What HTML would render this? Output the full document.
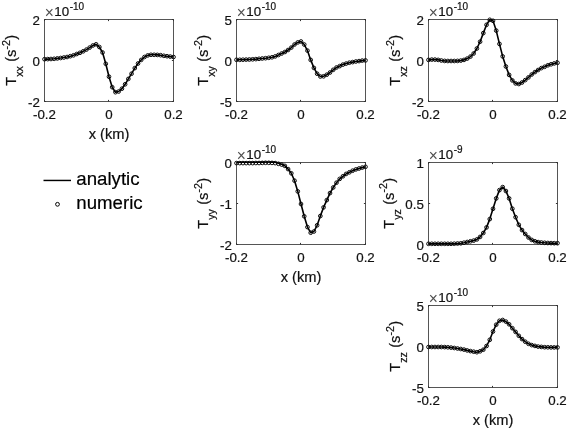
<!DOCTYPE html>
<html lang="en">
<head>
<meta charset="utf-8">
<title>Gravity gradient tensor components: analytic vs numeric</title>
<style>
html,body{margin:0;padding:0;background:#fff;}
body{width:568px;height:430px;overflow:hidden;}
svg{display:block;}
text{font-family:"Liberation Sans",Arial,Helvetica,sans-serif;fill:#111111;stroke:#111111;stroke-width:0.2px;}
.t{font-size:13.33px;}
.sup{font-size:10px;}
.mul{font-size:15.6px;stroke:none;fill:#505050;}
.l{font-size:14.67px;}
.sb{font-size:10.7px;}
.lg{font-size:18.67px;fill:#000;stroke:#000;stroke-width:0.2px;}
</style>
</head>
<body>
<svg width="568" height="430" viewBox="0 0 568 430">
<rect width="568" height="430" fill="#fff"/>
<g class="ax">
<rect x="44.5" y="19.5" width="129" height="82" fill="none" stroke="#555555" stroke-width="1"/>
<path d="M44.50 101.5v-1.6M44.50 19.5v1.6M108.50 101.5v-1.6M108.50 19.5v1.6M173.50 101.5v-1.6M173.50 19.5v1.6M44.5 19.50h1.6M173.5 19.50h-1.6M44.5 60.50h1.6M173.5 60.50h-1.6M44.5 101.50h1.6M173.5 101.50h-1.6" stroke="#333" stroke-width="1" fill="none"/>
<text class="t" x="44.50" y="119.30" text-anchor="middle">-0.2</text>
<text class="t" x="109.00" y="119.30" text-anchor="middle">0</text>
<text class="t" x="173.50" y="119.30" text-anchor="middle">0.2</text>
<text class="t" x="39.80" y="24.70" text-anchor="end">2</text>
<text class="t" x="39.80" y="65.70" text-anchor="end">0</text>
<text class="t" x="39.80" y="106.70" text-anchor="end">-2</text>
<text class="t" y="15.60"><tspan class="mul" x="44.80" dy="1.9">×</tspan><tspan x="54.35" dy="-1.9">10</tspan><tspan class="sup" dx="0.5" dy="-5.7">-10</tspan></text>
<text class="l" x="109.00" y="138.80" text-anchor="middle">x (km)</text>
<text class="l" transform="translate(16.30 85.70) rotate(-90)">T<tspan class="sb" dy="7.1">xx</tspan><tspan dy="-7.1" dx="0.2"> (s</tspan><tspan class="sb" dy="-6.6">-2</tspan><tspan dy="6.6" dx="0.2">)</tspan></text>
<path d="M44.50 59.20 L47.73 59.10 L50.95 59.00 L54.17 58.80 L57.40 58.40 L60.62 58.00 L63.85 57.50 L67.08 57.00 L70.30 56.20 L73.53 55.30 L76.75 54.00 L79.97 52.80 L83.20 51.30 L86.42 49.60 L89.65 47.60 L92.88 45.50 L96.10 44.30 L99.33 47.00 L102.55 52.50 L105.78 63.80 L109.00 76.70 L112.22 87.20 L115.45 92.20 L118.67 91.50 L121.90 88.70 L125.12 84.30 L128.35 78.90 L131.57 73.70 L134.80 68.10 L138.03 63.50 L141.25 59.90 L144.47 57.00 L147.70 55.40 L150.93 54.80 L154.15 54.80 L157.38 54.90 L160.60 55.20 L163.82 55.80 L167.05 56.20 L170.28 56.60 L173.50 57.00" fill="none" stroke="#000" stroke-width="1.6" stroke-linejoin="round"/>
<g fill="none" stroke="#000" stroke-width="0.95"><circle cx="44.50" cy="59.20" r="1.85"/><circle cx="47.73" cy="59.10" r="1.85"/><circle cx="50.95" cy="59.00" r="1.85"/><circle cx="54.17" cy="58.80" r="1.85"/><circle cx="57.40" cy="58.40" r="1.85"/><circle cx="60.62" cy="58.00" r="1.85"/><circle cx="63.85" cy="57.50" r="1.85"/><circle cx="67.08" cy="57.00" r="1.85"/><circle cx="70.30" cy="56.20" r="1.85"/><circle cx="73.53" cy="55.30" r="1.85"/><circle cx="76.75" cy="54.00" r="1.85"/><circle cx="79.97" cy="52.80" r="1.85"/><circle cx="83.20" cy="51.30" r="1.85"/><circle cx="86.42" cy="49.60" r="1.85"/><circle cx="89.65" cy="47.60" r="1.85"/><circle cx="92.88" cy="45.50" r="1.85"/><circle cx="96.10" cy="44.30" r="1.85"/><circle cx="99.33" cy="47.00" r="1.85"/><circle cx="102.55" cy="52.50" r="1.85"/><circle cx="105.78" cy="63.80" r="1.85"/><circle cx="109.00" cy="76.70" r="1.85"/><circle cx="112.22" cy="87.20" r="1.85"/><circle cx="115.45" cy="92.20" r="1.85"/><circle cx="118.67" cy="91.50" r="1.85"/><circle cx="121.90" cy="88.70" r="1.85"/><circle cx="125.12" cy="84.30" r="1.85"/><circle cx="128.35" cy="78.90" r="1.85"/><circle cx="131.57" cy="73.70" r="1.85"/><circle cx="134.80" cy="68.10" r="1.85"/><circle cx="138.03" cy="63.50" r="1.85"/><circle cx="141.25" cy="59.90" r="1.85"/><circle cx="144.47" cy="57.00" r="1.85"/><circle cx="147.70" cy="55.40" r="1.85"/><circle cx="150.93" cy="54.80" r="1.85"/><circle cx="154.15" cy="54.80" r="1.85"/><circle cx="157.38" cy="54.90" r="1.85"/><circle cx="160.60" cy="55.20" r="1.85"/><circle cx="163.82" cy="55.80" r="1.85"/><circle cx="167.05" cy="56.20" r="1.85"/><circle cx="170.28" cy="56.60" r="1.85"/><circle cx="173.50" cy="57.00" r="1.85"/></g>
</g>
<g class="ax">
<rect x="236.5" y="19.5" width="129" height="82" fill="none" stroke="#555555" stroke-width="1"/>
<path d="M236.50 101.5v-1.6M236.50 19.5v1.6M300.50 101.5v-1.6M300.50 19.5v1.6M365.50 101.5v-1.6M365.50 19.5v1.6M236.5 19.50h1.6M365.5 19.50h-1.6M236.5 60.50h1.6M365.5 60.50h-1.6M236.5 101.50h1.6M365.5 101.50h-1.6" stroke="#333" stroke-width="1" fill="none"/>
<text class="t" x="236.50" y="119.30" text-anchor="middle">-0.2</text>
<text class="t" x="301.00" y="119.30" text-anchor="middle">0</text>
<text class="t" x="365.50" y="119.30" text-anchor="middle">0.2</text>
<text class="t" x="231.80" y="24.70" text-anchor="end">5</text>
<text class="t" x="231.80" y="65.70" text-anchor="end">0</text>
<text class="t" x="231.80" y="106.70" text-anchor="end">-5</text>
<text class="t" y="15.60"><tspan class="mul" x="236.80" dy="1.9">×</tspan><tspan x="246.35" dy="-1.9">10</tspan><tspan class="sup" dx="0.5" dy="-5.7">-10</tspan></text>
<text class="l" transform="translate(208.30 85.70) rotate(-90)">T<tspan class="sb" dy="7.1">xy</tspan><tspan dy="-7.1" dx="0.2"> (s</tspan><tspan class="sb" dy="-6.6">-2</tspan><tspan dy="6.6" dx="0.2">)</tspan></text>
<path d="M236.50 59.80 L239.72 59.80 L242.95 59.70 L246.18 59.60 L249.40 59.50 L252.62 59.30 L255.85 59.10 L259.07 58.80 L262.30 58.50 L265.52 58.20 L268.75 57.80 L271.98 57.30 L275.20 56.40 L278.43 55.00 L281.65 53.50 L284.88 52.00 L288.10 50.00 L291.32 47.60 L294.55 44.50 L297.77 42.40 L301.00 41.50 L304.23 44.50 L307.45 50.60 L310.68 59.90 L313.90 67.90 L317.12 73.70 L320.35 76.50 L323.57 76.30 L326.80 74.70 L330.02 72.50 L333.25 69.80 L336.48 67.50 L339.70 66.10 L342.93 64.60 L346.15 63.60 L349.38 62.70 L352.60 62.10 L355.82 61.50 L359.05 61.10 L362.27 60.60 L365.50 60.40" fill="none" stroke="#000" stroke-width="1.6" stroke-linejoin="round"/>
<g fill="none" stroke="#000" stroke-width="0.95"><circle cx="236.50" cy="59.80" r="1.85"/><circle cx="239.72" cy="59.80" r="1.85"/><circle cx="242.95" cy="59.70" r="1.85"/><circle cx="246.18" cy="59.60" r="1.85"/><circle cx="249.40" cy="59.50" r="1.85"/><circle cx="252.62" cy="59.30" r="1.85"/><circle cx="255.85" cy="59.10" r="1.85"/><circle cx="259.07" cy="58.80" r="1.85"/><circle cx="262.30" cy="58.50" r="1.85"/><circle cx="265.52" cy="58.20" r="1.85"/><circle cx="268.75" cy="57.80" r="1.85"/><circle cx="271.98" cy="57.30" r="1.85"/><circle cx="275.20" cy="56.40" r="1.85"/><circle cx="278.43" cy="55.00" r="1.85"/><circle cx="281.65" cy="53.50" r="1.85"/><circle cx="284.88" cy="52.00" r="1.85"/><circle cx="288.10" cy="50.00" r="1.85"/><circle cx="291.32" cy="47.60" r="1.85"/><circle cx="294.55" cy="44.50" r="1.85"/><circle cx="297.77" cy="42.40" r="1.85"/><circle cx="301.00" cy="41.50" r="1.85"/><circle cx="304.23" cy="44.50" r="1.85"/><circle cx="307.45" cy="50.60" r="1.85"/><circle cx="310.68" cy="59.90" r="1.85"/><circle cx="313.90" cy="67.90" r="1.85"/><circle cx="317.12" cy="73.70" r="1.85"/><circle cx="320.35" cy="76.50" r="1.85"/><circle cx="323.57" cy="76.30" r="1.85"/><circle cx="326.80" cy="74.70" r="1.85"/><circle cx="330.02" cy="72.50" r="1.85"/><circle cx="333.25" cy="69.80" r="1.85"/><circle cx="336.48" cy="67.50" r="1.85"/><circle cx="339.70" cy="66.10" r="1.85"/><circle cx="342.93" cy="64.60" r="1.85"/><circle cx="346.15" cy="63.60" r="1.85"/><circle cx="349.38" cy="62.70" r="1.85"/><circle cx="352.60" cy="62.10" r="1.85"/><circle cx="355.82" cy="61.50" r="1.85"/><circle cx="359.05" cy="61.10" r="1.85"/><circle cx="362.27" cy="60.60" r="1.85"/><circle cx="365.50" cy="60.40" r="1.85"/></g>
</g>
<g class="ax">
<rect x="428.5" y="19.5" width="129" height="82" fill="none" stroke="#555555" stroke-width="1"/>
<path d="M428.50 101.5v-1.6M428.50 19.5v1.6M492.50 101.5v-1.6M492.50 19.5v1.6M557.50 101.5v-1.6M557.50 19.5v1.6M428.5 19.50h1.6M557.5 19.50h-1.6M428.5 60.50h1.6M557.5 60.50h-1.6M428.5 101.50h1.6M557.5 101.50h-1.6" stroke="#333" stroke-width="1" fill="none"/>
<text class="t" x="428.50" y="119.30" text-anchor="middle">-0.2</text>
<text class="t" x="493.00" y="119.30" text-anchor="middle">0</text>
<text class="t" x="557.50" y="119.30" text-anchor="middle">0.2</text>
<text class="t" x="423.80" y="24.70" text-anchor="end">2</text>
<text class="t" x="423.80" y="65.70" text-anchor="end">0</text>
<text class="t" x="423.80" y="106.70" text-anchor="end">-2</text>
<text class="t" y="15.60"><tspan class="mul" x="428.80" dy="1.9">×</tspan><tspan x="438.35" dy="-1.9">10</tspan><tspan class="sup" dx="0.5" dy="-5.7">-10</tspan></text>
<text class="l" transform="translate(400.30 85.70) rotate(-90)">T<tspan class="sb" dy="7.1">xz</tspan><tspan dy="-7.1" dx="0.2"> (s</tspan><tspan class="sb" dy="-6.6">-2</tspan><tspan dy="6.6" dx="0.2">)</tspan></text>
<path d="M428.50 59.90 L431.73 59.60 L434.95 59.60 L438.18 59.90 L441.40 60.50 L444.62 60.90 L447.85 61.00 L451.07 61.00 L454.30 61.00 L457.52 60.90 L460.75 60.60 L463.98 59.90 L467.20 58.60 L470.43 56.60 L473.65 53.50 L476.88 48.50 L480.10 41.70 L483.32 33.10 L486.55 24.80 L489.77 19.80 L493.00 20.80 L496.23 30.60 L499.45 43.90 L502.68 56.40 L505.90 66.50 L509.12 74.90 L512.35 80.40 L515.58 83.40 L518.80 84.00 L522.02 82.50 L525.25 80.10 L528.48 77.40 L531.70 74.50 L534.92 72.10 L538.15 70.00 L541.38 68.10 L544.60 66.80 L547.83 65.30 L551.05 64.30 L554.27 63.40 L557.50 62.80" fill="none" stroke="#000" stroke-width="1.6" stroke-linejoin="round"/>
<g fill="none" stroke="#000" stroke-width="0.95"><circle cx="428.50" cy="59.90" r="1.85"/><circle cx="431.73" cy="59.60" r="1.85"/><circle cx="434.95" cy="59.60" r="1.85"/><circle cx="438.18" cy="59.90" r="1.85"/><circle cx="441.40" cy="60.50" r="1.85"/><circle cx="444.62" cy="60.90" r="1.85"/><circle cx="447.85" cy="61.00" r="1.85"/><circle cx="451.07" cy="61.00" r="1.85"/><circle cx="454.30" cy="61.00" r="1.85"/><circle cx="457.52" cy="60.90" r="1.85"/><circle cx="460.75" cy="60.60" r="1.85"/><circle cx="463.98" cy="59.90" r="1.85"/><circle cx="467.20" cy="58.60" r="1.85"/><circle cx="470.43" cy="56.60" r="1.85"/><circle cx="473.65" cy="53.50" r="1.85"/><circle cx="476.88" cy="48.50" r="1.85"/><circle cx="480.10" cy="41.70" r="1.85"/><circle cx="483.32" cy="33.10" r="1.85"/><circle cx="486.55" cy="24.80" r="1.85"/><circle cx="489.77" cy="19.80" r="1.85"/><circle cx="493.00" cy="20.80" r="1.85"/><circle cx="496.23" cy="30.60" r="1.85"/><circle cx="499.45" cy="43.90" r="1.85"/><circle cx="502.68" cy="56.40" r="1.85"/><circle cx="505.90" cy="66.50" r="1.85"/><circle cx="509.12" cy="74.90" r="1.85"/><circle cx="512.35" cy="80.40" r="1.85"/><circle cx="515.58" cy="83.40" r="1.85"/><circle cx="518.80" cy="84.00" r="1.85"/><circle cx="522.02" cy="82.50" r="1.85"/><circle cx="525.25" cy="80.10" r="1.85"/><circle cx="528.48" cy="77.40" r="1.85"/><circle cx="531.70" cy="74.50" r="1.85"/><circle cx="534.92" cy="72.10" r="1.85"/><circle cx="538.15" cy="70.00" r="1.85"/><circle cx="541.38" cy="68.10" r="1.85"/><circle cx="544.60" cy="66.80" r="1.85"/><circle cx="547.83" cy="65.30" r="1.85"/><circle cx="551.05" cy="64.30" r="1.85"/><circle cx="554.27" cy="63.40" r="1.85"/><circle cx="557.50" cy="62.80" r="1.85"/></g>
</g>
<g class="ax">
<rect x="236.5" y="162.5" width="129" height="82" fill="none" stroke="#555555" stroke-width="1"/>
<path d="M236.50 244.5v-1.6M236.50 162.5v1.6M300.50 244.5v-1.6M300.50 162.5v1.6M365.50 244.5v-1.6M365.50 162.5v1.6M236.5 162.50h1.6M365.5 162.50h-1.6M236.5 203.50h1.6M365.5 203.50h-1.6M236.5 244.50h1.6M365.5 244.50h-1.6" stroke="#333" stroke-width="1" fill="none"/>
<text class="t" x="236.50" y="262.30" text-anchor="middle">-0.2</text>
<text class="t" x="301.00" y="262.30" text-anchor="middle">0</text>
<text class="t" x="365.50" y="262.30" text-anchor="middle">0.2</text>
<text class="t" x="231.80" y="167.70" text-anchor="end">0</text>
<text class="t" x="231.80" y="208.70" text-anchor="end">-1</text>
<text class="t" x="231.80" y="249.70" text-anchor="end">-2</text>
<text class="t" y="158.60"><tspan class="mul" x="236.80" dy="1.9">×</tspan><tspan x="246.35" dy="-1.9">10</tspan><tspan class="sup" dx="0.5" dy="-5.7">-10</tspan></text>
<text class="l" x="301.00" y="281.80" text-anchor="middle">x (km)</text>
<text class="l" transform="translate(208.30 228.70) rotate(-90)">T<tspan class="sb" dy="7.1">yy</tspan><tspan dy="-7.1" dx="0.2"> (s</tspan><tspan class="sb" dy="-6.6">-2</tspan><tspan dy="6.6" dx="0.2">)</tspan></text>
<path d="M236.50 162.30 L239.72 162.30 L242.95 162.30 L246.18 162.30 L249.40 162.30 L252.62 162.30 L255.85 162.20 L259.07 162.20 L262.30 162.10 L265.52 162.00 L268.75 162.00 L271.98 162.10 L275.20 162.30 L278.43 163.20 L281.65 164.20 L284.88 165.70 L288.10 169.10 L291.32 173.30 L294.55 180.70 L297.77 191.40 L301.00 204.00 L304.23 216.30 L307.45 227.10 L310.68 232.70 L313.90 231.50 L317.12 225.30 L320.35 216.00 L323.57 207.40 L326.80 200.10 L330.02 193.10 L333.25 187.50 L336.48 182.70 L339.70 178.90 L342.93 176.30 L346.15 173.90 L349.38 172.30 L352.60 170.70 L355.82 169.40 L359.05 168.50 L362.27 167.60 L365.50 166.80" fill="none" stroke="#000" stroke-width="1.6" stroke-linejoin="round"/>
<g fill="none" stroke="#000" stroke-width="0.95"><circle cx="236.50" cy="163.10" r="1.85"/><circle cx="239.72" cy="163.10" r="1.85"/><circle cx="242.95" cy="163.10" r="1.85"/><circle cx="246.18" cy="163.10" r="1.85"/><circle cx="249.40" cy="163.10" r="1.85"/><circle cx="252.62" cy="163.10" r="1.85"/><circle cx="255.85" cy="163.00" r="1.85"/><circle cx="259.07" cy="163.00" r="1.85"/><circle cx="262.30" cy="162.90" r="1.85"/><circle cx="265.52" cy="162.80" r="1.85"/><circle cx="268.75" cy="162.80" r="1.85"/><circle cx="271.98" cy="162.90" r="1.85"/><circle cx="275.20" cy="163.10" r="1.85"/><circle cx="278.43" cy="163.80" r="1.85"/><circle cx="281.65" cy="164.60" r="1.85"/><circle cx="284.88" cy="165.90" r="1.85"/><circle cx="288.10" cy="169.10" r="1.85"/><circle cx="291.32" cy="173.30" r="1.85"/><circle cx="294.55" cy="180.70" r="1.85"/><circle cx="297.77" cy="191.40" r="1.85"/><circle cx="301.00" cy="204.00" r="1.85"/><circle cx="304.23" cy="216.30" r="1.85"/><circle cx="307.45" cy="227.10" r="1.85"/><circle cx="310.68" cy="232.70" r="1.85"/><circle cx="313.90" cy="231.50" r="1.85"/><circle cx="317.12" cy="225.30" r="1.85"/><circle cx="320.35" cy="216.00" r="1.85"/><circle cx="323.57" cy="207.40" r="1.85"/><circle cx="326.80" cy="200.10" r="1.85"/><circle cx="330.02" cy="193.10" r="1.85"/><circle cx="333.25" cy="187.50" r="1.85"/><circle cx="336.48" cy="182.70" r="1.85"/><circle cx="339.70" cy="178.90" r="1.85"/><circle cx="342.93" cy="176.30" r="1.85"/><circle cx="346.15" cy="173.90" r="1.85"/><circle cx="349.38" cy="172.30" r="1.85"/><circle cx="352.60" cy="170.70" r="1.85"/><circle cx="355.82" cy="169.40" r="1.85"/><circle cx="359.05" cy="168.50" r="1.85"/><circle cx="362.27" cy="167.60" r="1.85"/><circle cx="365.50" cy="166.80" r="1.85"/></g>
</g>
<g class="ax">
<rect x="428.5" y="162.5" width="129" height="82" fill="none" stroke="#555555" stroke-width="1"/>
<path d="M428.50 244.5v-1.6M428.50 162.5v1.6M492.50 244.5v-1.6M492.50 162.5v1.6M557.50 244.5v-1.6M557.50 162.5v1.6M428.5 162.50h1.6M557.5 162.50h-1.6M428.5 203.50h1.6M557.5 203.50h-1.6M428.5 244.50h1.6M557.5 244.50h-1.6" stroke="#333" stroke-width="1" fill="none"/>
<text class="t" x="428.50" y="262.30" text-anchor="middle">-0.2</text>
<text class="t" x="493.00" y="262.30" text-anchor="middle">0</text>
<text class="t" x="557.50" y="262.30" text-anchor="middle">0.2</text>
<text class="t" x="423.80" y="167.70" text-anchor="end">1</text>
<text class="t" x="423.80" y="208.70" text-anchor="end">0.5</text>
<text class="t" x="423.80" y="249.70" text-anchor="end">0</text>
<text class="t" y="158.60"><tspan class="mul" x="428.80" dy="1.9">×</tspan><tspan x="438.35" dy="-1.9">10</tspan><tspan class="sup" dx="0.5" dy="-5.7">-9</tspan></text>
<text class="l" transform="translate(393.90 228.70) rotate(-90)">T<tspan class="sb" dy="7.1">yz</tspan><tspan dy="-7.1" dx="0.2"> (s</tspan><tspan class="sb" dy="-6.6">-2</tspan><tspan dy="6.6" dx="0.2">)</tspan></text>
<path d="M428.50 243.80 L431.73 243.80 L434.95 243.80 L438.18 243.80 L441.40 243.80 L444.62 243.80 L447.85 243.80 L451.07 243.80 L454.30 243.70 L457.52 243.50 L460.75 243.30 L463.98 242.70 L467.20 242.00 L470.43 241.30 L473.65 240.60 L476.88 239.40 L480.10 236.90 L483.32 233.00 L486.55 227.40 L489.77 219.10 L493.00 208.80 L496.23 198.40 L499.45 190.10 L502.68 187.10 L505.90 191.00 L509.12 198.40 L512.35 208.70 L515.58 217.20 L518.80 224.80 L522.02 230.10 L525.25 234.00 L528.48 237.50 L531.70 239.90 L534.92 241.30 L538.15 242.10 L541.38 242.50 L544.60 242.80 L547.83 243.00 L551.05 243.10 L554.27 243.20 L557.50 243.20" fill="none" stroke="#000" stroke-width="1.6" stroke-linejoin="round"/>
<g fill="none" stroke="#000" stroke-width="0.95"><circle cx="428.50" cy="243.80" r="1.85"/><circle cx="431.73" cy="243.80" r="1.85"/><circle cx="434.95" cy="243.80" r="1.85"/><circle cx="438.18" cy="243.80" r="1.85"/><circle cx="441.40" cy="243.80" r="1.85"/><circle cx="444.62" cy="243.80" r="1.85"/><circle cx="447.85" cy="243.80" r="1.85"/><circle cx="451.07" cy="243.80" r="1.85"/><circle cx="454.30" cy="243.70" r="1.85"/><circle cx="457.52" cy="243.50" r="1.85"/><circle cx="460.75" cy="243.30" r="1.85"/><circle cx="463.98" cy="242.70" r="1.85"/><circle cx="467.20" cy="242.00" r="1.85"/><circle cx="470.43" cy="241.30" r="1.85"/><circle cx="473.65" cy="240.60" r="1.85"/><circle cx="476.88" cy="239.40" r="1.85"/><circle cx="480.10" cy="236.90" r="1.85"/><circle cx="483.32" cy="233.00" r="1.85"/><circle cx="486.55" cy="227.40" r="1.85"/><circle cx="489.77" cy="219.10" r="1.85"/><circle cx="493.00" cy="208.80" r="1.85"/><circle cx="496.23" cy="198.40" r="1.85"/><circle cx="499.45" cy="190.10" r="1.85"/><circle cx="502.68" cy="187.10" r="1.85"/><circle cx="505.90" cy="191.00" r="1.85"/><circle cx="509.12" cy="198.40" r="1.85"/><circle cx="512.35" cy="208.70" r="1.85"/><circle cx="515.58" cy="217.20" r="1.85"/><circle cx="518.80" cy="224.80" r="1.85"/><circle cx="522.02" cy="230.10" r="1.85"/><circle cx="525.25" cy="234.00" r="1.85"/><circle cx="528.48" cy="237.50" r="1.85"/><circle cx="531.70" cy="239.90" r="1.85"/><circle cx="534.92" cy="241.30" r="1.85"/><circle cx="538.15" cy="242.10" r="1.85"/><circle cx="541.38" cy="242.50" r="1.85"/><circle cx="544.60" cy="242.80" r="1.85"/><circle cx="547.83" cy="243.00" r="1.85"/><circle cx="551.05" cy="243.10" r="1.85"/><circle cx="554.27" cy="243.20" r="1.85"/><circle cx="557.50" cy="243.20" r="1.85"/></g>
</g>
<g class="ax">
<rect x="428.5" y="305.5" width="129" height="82" fill="none" stroke="#555555" stroke-width="1"/>
<path d="M428.50 387.5v-1.6M428.50 305.5v1.6M492.50 387.5v-1.6M492.50 305.5v1.6M557.50 387.5v-1.6M557.50 305.5v1.6M428.5 305.50h1.6M557.5 305.50h-1.6M428.5 346.50h1.6M557.5 346.50h-1.6M428.5 387.50h1.6M557.5 387.50h-1.6" stroke="#333" stroke-width="1" fill="none"/>
<text class="t" x="428.50" y="405.30" text-anchor="middle">-0.2</text>
<text class="t" x="493.00" y="405.30" text-anchor="middle">0</text>
<text class="t" x="557.50" y="405.30" text-anchor="middle">0.2</text>
<text class="t" x="423.80" y="310.70" text-anchor="end">5</text>
<text class="t" x="423.80" y="351.70" text-anchor="end">0</text>
<text class="t" x="423.80" y="392.70" text-anchor="end">-5</text>
<text class="t" y="301.60"><tspan class="mul" x="428.80" dy="1.9">×</tspan><tspan x="438.35" dy="-1.9">10</tspan><tspan class="sup" dx="0.5" dy="-5.7">-10</tspan></text>
<text class="l" x="493.00" y="424.80" text-anchor="middle">x (km)</text>
<text class="l" transform="translate(400.30 371.70) rotate(-90)">T<tspan class="sb" dy="7.1">zz</tspan><tspan dy="-7.1" dx="0.2"> (s</tspan><tspan class="sb" dy="-6.6">-2</tspan><tspan dy="6.6" dx="0.2">)</tspan></text>
<path d="M428.50 347.00 L431.73 347.00 L434.95 347.00 L438.18 347.00 L441.40 347.00 L444.62 347.10 L447.85 347.30 L451.07 347.60 L454.30 348.00 L457.52 348.50 L460.75 349.00 L463.98 349.60 L467.20 350.40 L470.43 351.10 L473.65 351.70 L476.88 352.20 L480.10 351.30 L483.32 349.70 L486.55 346.00 L489.77 339.80 L493.00 331.50 L496.23 324.70 L499.45 320.80 L502.68 320.00 L505.90 321.60 L509.12 324.30 L512.35 328.20 L515.58 331.90 L518.80 335.80 L522.02 339.10 L525.25 341.70 L528.48 343.80 L531.70 345.10 L534.92 345.90 L538.15 346.60 L541.38 346.90 L544.60 347.20 L547.83 347.30 L551.05 347.40 L554.27 347.40 L557.50 347.40" fill="none" stroke="#000" stroke-width="1.6" stroke-linejoin="round"/>
<g fill="none" stroke="#000" stroke-width="0.95"><circle cx="428.50" cy="347.00" r="1.85"/><circle cx="431.73" cy="347.00" r="1.85"/><circle cx="434.95" cy="347.00" r="1.85"/><circle cx="438.18" cy="347.00" r="1.85"/><circle cx="441.40" cy="347.00" r="1.85"/><circle cx="444.62" cy="347.10" r="1.85"/><circle cx="447.85" cy="347.30" r="1.85"/><circle cx="451.07" cy="347.60" r="1.85"/><circle cx="454.30" cy="348.00" r="1.85"/><circle cx="457.52" cy="348.50" r="1.85"/><circle cx="460.75" cy="349.00" r="1.85"/><circle cx="463.98" cy="349.60" r="1.85"/><circle cx="467.20" cy="350.40" r="1.85"/><circle cx="470.43" cy="351.10" r="1.85"/><circle cx="473.65" cy="351.70" r="1.85"/><circle cx="476.88" cy="352.20" r="1.85"/><circle cx="480.10" cy="351.30" r="1.85"/><circle cx="483.32" cy="349.70" r="1.85"/><circle cx="486.55" cy="346.00" r="1.85"/><circle cx="489.77" cy="339.80" r="1.85"/><circle cx="493.00" cy="331.50" r="1.85"/><circle cx="496.23" cy="324.70" r="1.85"/><circle cx="499.45" cy="320.80" r="1.85"/><circle cx="502.68" cy="320.00" r="1.85"/><circle cx="505.90" cy="321.60" r="1.85"/><circle cx="509.12" cy="324.30" r="1.85"/><circle cx="512.35" cy="328.20" r="1.85"/><circle cx="515.58" cy="331.90" r="1.85"/><circle cx="518.80" cy="335.80" r="1.85"/><circle cx="522.02" cy="339.10" r="1.85"/><circle cx="525.25" cy="341.70" r="1.85"/><circle cx="528.48" cy="343.80" r="1.85"/><circle cx="531.70" cy="345.10" r="1.85"/><circle cx="534.92" cy="345.90" r="1.85"/><circle cx="538.15" cy="346.60" r="1.85"/><circle cx="541.38" cy="346.90" r="1.85"/><circle cx="544.60" cy="347.20" r="1.85"/><circle cx="547.83" cy="347.30" r="1.85"/><circle cx="551.05" cy="347.40" r="1.85"/><circle cx="554.27" cy="347.40" r="1.85"/><circle cx="557.50" cy="347.40" r="1.85"/></g>
</g>
<g class="legend">
<path d="M43.5 180.45H71" stroke="#000" stroke-width="1.45" fill="none"/>
<circle cx="57.5" cy="204.3" r="1.9" fill="none" stroke="#000" stroke-width="1"/>
<text class="lg" x="76.3" y="185">analytic</text>
<text class="lg" x="76.3" y="208.8">numeric</text>
</g>
</svg>
</body>
</html>
